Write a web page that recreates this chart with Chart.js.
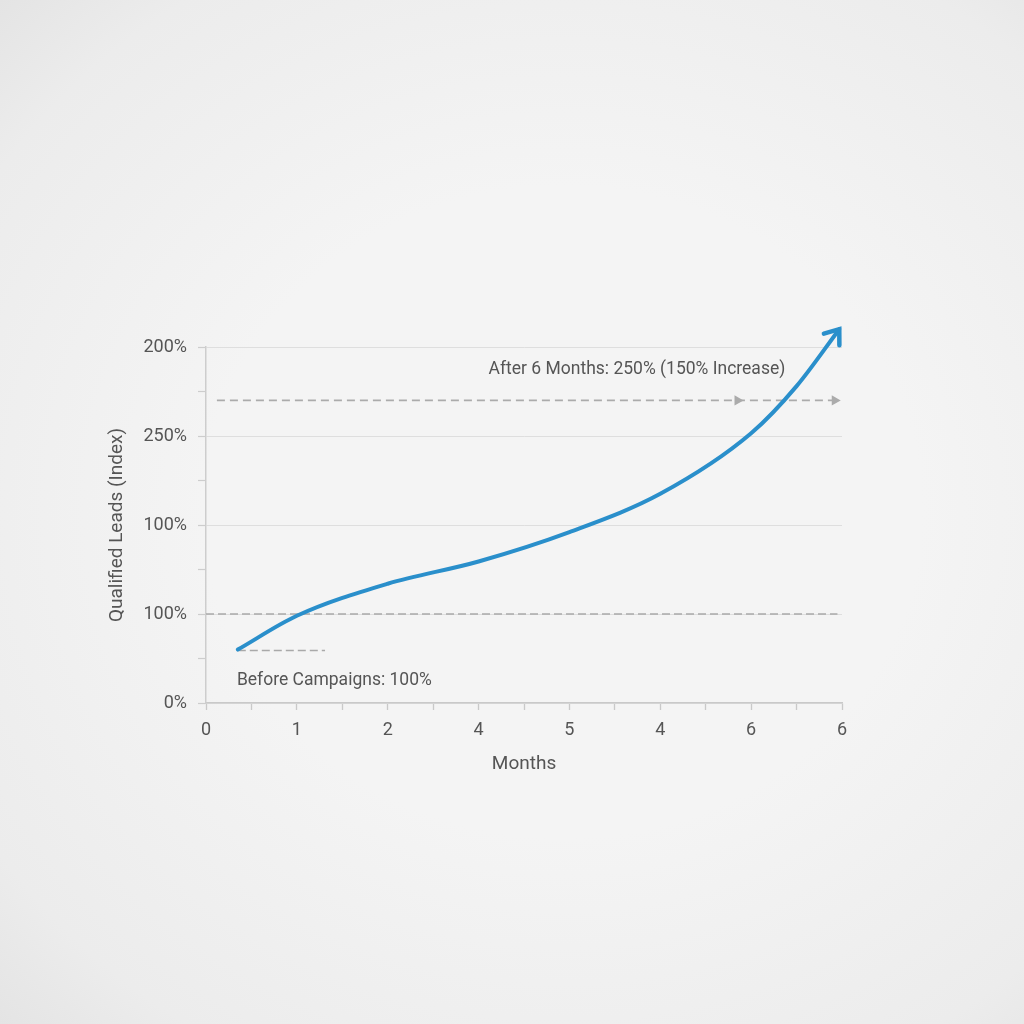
<!DOCTYPE html>
<html>
<head>
<meta charset="utf-8">
<script src="https://cdn.jsdelivr.net/npm/chart.js@4"></script>
<style>
    html, body {
        margin: 0;
        padding: 0;
        width: 1024px;
        height: 1024px;
        overflow: hidden;
        background: radial-gradient(ellipse at 55% 50%, #f4f4f4 45%, #ececec 85%, #e4e4e4 100%);
    }
    #wrap {
        position: absolute;
        left: 0;
        top: 0;
        width: 1024px;
        height: 1024px;
    }
</style>
</head>
<body>
<div id="wrap"><canvas id="mainChart" width="1024" height="1024"></canvas></div>
<script>
// tick labels, as printed on the picture
const xLabels = ['0', '1', '2', '4', '5', '4', '6', '6'];
const yLabels = ['0%', '100%', '100%', '250%', '200%'];

// qualified leads curve (x in month units, y in axis units)
const monthX = [0.35, 1.0, 2.0, 3.0, 4.0, 5.0, 6.0, 6.5, 6.97];
const leadsY = [0.60, 0.98, 1.34, 1.59, 1.92, 2.35, 3.03, 3.56, 4.20];

// reference lines
const baseLineX = [0, 6.95];
const baseLineY = [1, 1];
const beforeLineX = [0.35, 1.31];
const beforeLineY = [0.59, 0.59];
const afterLineX = [0.12, 5.85, 6.92];
const afterLineY = [3.4, 3.4, 3.4];

// annotations
const notes = [
    { text: 'After 6 Months: 250% (150% Increase)', x: 3.11, y: 3.75 },
    { text: 'Before Campaigns: 100%', x: 0.34, y: 0.25 }
];

const FONT = 'Roboto, "Noto Sans", sans-serif';
const TEXT = '#555555';
const BLUE = '#2a8fcb';

function toPoints(xs, ys) {
    return xs.map((x, i) => ({ x: x, y: ys[i] }));
}

const notesPlugin = {
    id: 'notes',
    afterDatasetsDraw(chart) {
        const ctx = chart.ctx;
        const xs = chart.scales.x;
        const ys = chart.scales.y;

        ctx.save();
        ctx.font = '17.5px ' + FONT;
        ctx.fillStyle = TEXT;
        ctx.textAlign = 'left';
        ctx.textBaseline = 'middle';
        for (let n of notes) {
            ctx.fillText(n.text, xs.getPixelForValue(n.x), ys.getPixelForValue(n.y));
        }

        // arrow head at the end of the curve
        const pts = chart.getDatasetMeta(0).data;
        const a = pts[pts.length - 2];
        const b = pts[pts.length - 1];
        const ang = Math.atan2(b.y - a.y, b.x - a.x);
        const len = 16;
        ctx.strokeStyle = BLUE;
        ctx.lineWidth = 4.5;
        ctx.lineCap = 'round';
        ctx.lineJoin = 'miter';
        ctx.beginPath();
        ctx.moveTo(b.x - len * Math.cos(ang - 0.65), b.y - len * Math.sin(ang - 0.65));
        ctx.lineTo(b.x, b.y);
        ctx.lineTo(b.x - len * Math.cos(ang + 0.65), b.y - len * Math.sin(ang + 0.65));
        ctx.stroke();
        ctx.restore();
    }
};

new Chart(document.getElementById('mainChart').getContext('2d'), {
    type: 'scatter',
    data: {
        datasets: [{
            data: toPoints(monthX, leadsY),
            showLine: true,
            borderColor: BLUE,
            borderWidth: 4,
            pointRadius: 0,
            cubicInterpolationMode: 'monotone',
            borderCapStyle: 'round',
            clip: false
        }, {
            data: toPoints(baseLineX, baseLineY),
            showLine: true,
            borderColor: '#a9a9a9',
            borderWidth: 1.6,
            borderDash: [8, 4],
            pointRadius: 0
        }, {
            data: toPoints(beforeLineX, beforeLineY),
            showLine: true,
            borderColor: '#a9a9a9',
            borderWidth: 1.6,
            borderDash: [8, 4],
            pointRadius: 0
        }, {
            data: toPoints(afterLineX, afterLineY),
            showLine: true,
            borderColor: '#ababab',
            borderWidth: 1.6,
            borderDash: [8, 5],
            pointStyle: 'triangle',
            rotation: 90,
            pointRadius: [0, 6, 6],
            pointBackgroundColor: '#ababab',
            pointBorderColor: '#ababab',
            pointBorderWidth: 0
        }]
    },
    options: {
        responsive: false,
        animation: false,
        layout: {
            padding: { left: 106, top: 347, right: 182, bottom: 244 }
        },
        plugins: {
            legend: { display: false },
            tooltip: { enabled: false }
        },
        scales: {
            x: {
                type: 'linear',
                min: 0,
                max: 7,
                afterFit(scale) {
                    scale.height = 77;
                },
                ticks: {
                    stepSize: 0.5,
                    autoSkip: false,
                    maxRotation: 0,
                    padding: 10,
                    color: TEXT,
                    font: { family: FONT, size: 18 },
                    callback(v) {
                        return Number.isInteger(v) ? xLabels[v] : '';
                    }
                },
                grid: {
                    drawOnChartArea: false,
                    tickLength: 7,
                    tickColor: '#c9c9c9',
                    tickWidth: 1.3
                },
                border: { color: '#c9c9c9', width: 1.5 },
                title: {
                    display: true,
                    text: 'Months',
                    color: TEXT,
                    font: { family: FONT, size: 19 },
                    padding: { top: 0, bottom: 4 }
                }
            },
            y: {
                type: 'linear',
                min: 0,
                max: 4,
                afterFit(scale) {
                    scale.width = 100;
                },
                ticks: {
                    stepSize: 0.5,
                    autoSkip: false,
                    padding: 11,
                    color: TEXT,
                    font: { family: FONT, size: 18 },
                    callback(v) {
                        return Number.isInteger(v) ? yLabels[v] : '';
                    }
                },
                grid: {
                    tickLength: 8,
                    tickColor: '#cdcdcd',
                    tickWidth: 1.2,
                    tickBorderDash: [],
                    color(c) {
                        return Number.isInteger(c.tick.value) ? '#dedede' : 'rgba(0,0,0,0)';
                    },
                    lineWidth: 1,
                    borderDash: [1, 2]
                },
                border: { color: '#cdcdcd', width: 1.5 },
                title: {
                    display: true,
                    text: 'Qualified Leads (Index)',
                    color: TEXT,
                    font: { family: FONT, size: 19 },
                    padding: { top: 0, bottom: 0 }
                }
            }
        }
    },
    plugins: [notesPlugin]
});
</script>
</body>
</html>
